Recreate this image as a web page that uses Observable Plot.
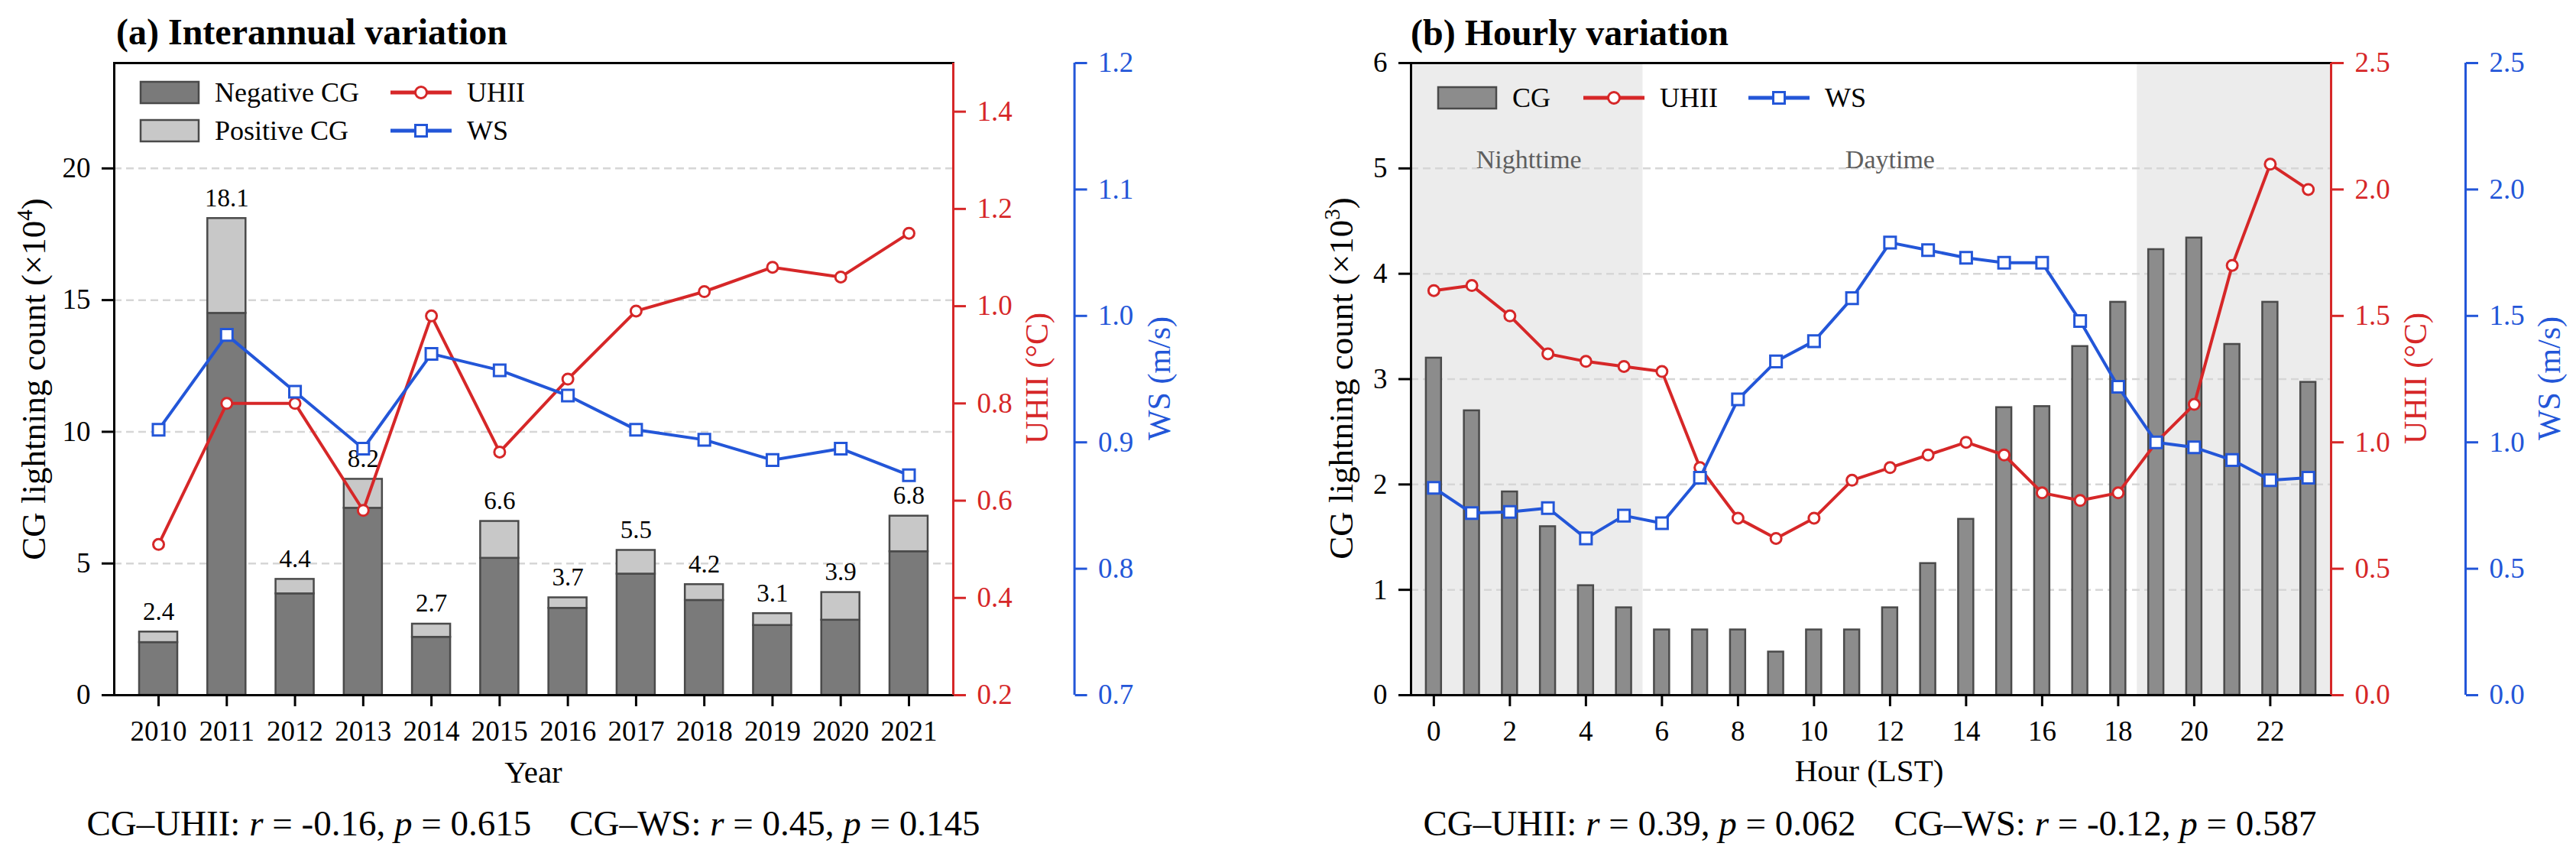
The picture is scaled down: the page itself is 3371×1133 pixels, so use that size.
<!DOCTYPE html>
<html><head><meta charset="utf-8">
<script src="https://cdn.jsdelivr.net/npm/d3@7"></script>
<script src="https://cdn.jsdelivr.net/npm/@observablehq/plot@0.6"></script>
<style>
html,body{margin:0;padding:0;background:#fff;}
#page{position:relative;width:3371px;height:1133px;overflow:hidden;background:#fff;}
</style></head><body><div id="page"></div>
<script>
// ---------------- DATA ----------------
const years = [2010, 2011, 2012, 2013, 2014, 2015, 2016, 2017, 2018, 2019, 2020, 2021];
const cgTotal = [2.4, 18.1, 4.4, 8.2, 2.7, 6.6, 3.7, 5.5, 4.2, 3.1, 3.9, 6.8];
const cgNegative = [2.0, 14.5, 3.85, 7.1, 2.2, 5.2, 3.3, 4.6, 3.6, 2.65, 2.85, 5.45];
const uhiiYear = [0.51, 0.80, 0.80, 0.58, 0.98, 0.70, 0.85, 0.99, 1.03, 1.08, 1.06, 1.15];
const wsYear = [0.91, 0.985, 0.94, 0.895, 0.97, 0.957, 0.937, 0.91, 0.902, 0.886, 0.895, 0.874];

const hours = [0, 1, 2, 3, 4, 5, 6, 7, 8, 9, 10, 11, 12, 13, 14, 15, 16, 17, 18, 19, 20, 21, 22, 23];
const cgHour = [3.2, 2.7, 1.93, 1.6, 1.04, 0.83, 0.62, 0.62, 0.62, 0.41, 0.62, 0.62, 0.83, 1.25, 1.67, 2.73, 2.74, 3.31, 3.73, 4.23, 4.34, 3.33, 3.73, 2.97];
const uhiiHour = [1.60, 1.62, 1.50, 1.35, 1.32, 1.30, 1.28, 0.90, 0.70, 0.62, 0.70, 0.85, 0.90, 0.95, 1.00, 0.95, 0.80, 0.77, 0.80, 1.00, 1.15, 1.70, 2.10, 2.00];
const wsHour = [0.82, 0.72, 0.725, 0.74, 0.62, 0.71, 0.68, 0.86, 1.17, 1.32, 1.40, 1.57, 1.79, 1.76, 1.73, 1.71, 1.71, 1.48, 1.22, 1.00, 0.98, 0.93, 0.85, 0.86];

const leftTicksA = [0, 5, 10, 15, 20];
const uhiiTicksA = [0.2, 0.4, 0.6, 0.8, 1.0, 1.2, 1.4];
const wsTicksA = [0.7, 0.8, 0.9, 1.0, 1.1, 1.2];
const hourTicks = [0, 2, 4, 6, 8, 10, 12, 14, 16, 18, 20, 22];
const leftTicksB = [0, 1, 2, 3, 4, 5, 6];
const rightTicksB = [0, 0.5, 1.0, 1.5, 2.0, 2.5];
const dayStart = 5.5, dayEnd = 18.5;
const periodLabels = [{label: "Nighttime", hour: 2.5}, {label: "Daytime", hour: 12}];

// ---------------- STYLE ----------------
const RED = "#d62728", BLUE = "#2356d8";
const FONT = "'Liberation Serif','Times New Roman',serif";
const H = 1133;
const page = document.getElementById("page");
function style(color) {
  return `background:transparent;overflow:visible;max-width:none;font-family:${FONT};font-size:37px;color:${color};`;
}
function place(svg, left) {
  svg.style.position = "absolute";
  svg.style.left = left + "px";
  svg.style.top = "0px";
  page.appendChild(svg);
}

// ---------------- PANEL A ----------------
const rowsA = years.map((year, i) => ({year, total: cgTotal[i], neg: cgNegative[i], uhii: uhiiYear[i], ws: wsYear[i]}));
const A = {left: 0, width: 1700, ml: 149, mr: 453, mt: 82, mb: 224, wsMr: 294.4};
const xDomA = [2009.35, 2021.65];
const halfA = 0.28;

place(Plot.plot({
  width: A.width, height: H, marginLeft: A.ml, marginRight: A.mr, marginTop: A.mt, marginBottom: A.mb,
  x: {domain: xDomA}, y: {domain: [0, 24]}, style: style("#000"),
  marks: [
    Plot.ruleY(leftTicksA.filter(v => v > 0), {stroke: "#d6d6d6", strokeWidth: 2.5, strokeDasharray: "10,6"}),
    Plot.rect(rowsA, {x1: d => d.year - halfA, x2: d => d.year + halfA, y1: () => 0, y2: "neg", fill: "#7a7a7a", stroke: "#4a4a4a", strokeWidth: 2.5}),
    Plot.rect(rowsA, {x1: d => d.year - halfA, x2: d => d.year + halfA, y1: "neg", y2: "total", fill: "#c8c8c8", stroke: "#4a4a4a", strokeWidth: 2.5}),
    Plot.text(rowsA, {x: "year", y: "total", text: d => d.total.toFixed(1), lineAnchor: "bottom", dy: -16, fontSize: 33, fill: "#000"}),
    Plot.axisY(leftTicksA, {tickSize: 16, tickPadding: 15, strokeWidth: 3, tickFormat: "d", label: null}),
    Plot.axisX(years, {tickSize: 15, tickPadding: 18, strokeWidth: 3, tickFormat: d => String(d), label: null}),
    Plot.frame({stroke: "#000", strokeWidth: 3})
  ]
}), A.left);

place(Plot.plot({
  width: A.width, height: H, marginLeft: A.ml, marginRight: A.mr, marginTop: A.mt, marginBottom: A.mb,
  x: {domain: xDomA, axis: null}, y: {domain: [0.2, 1.5]}, style: style(RED),
  marks: [
    Plot.ruleX([xDomA[1]], {stroke: RED, strokeWidth: 3}),
    Plot.axisY(uhiiTicksA, {anchor: "right", tickSize: 16, tickPadding: 15, strokeWidth: 3, tickFormat: ".1f", label: null}),
    Plot.line(rowsA, {x: "year", y: "uhii", stroke: RED, strokeWidth: 4}),
    Plot.dot(rowsA, {x: "year", y: "uhii", r: 7, fill: "white", stroke: RED, strokeWidth: 3})
  ]
}), A.left);

place(Plot.plot({
  width: A.width, height: H, marginLeft: A.ml, marginRight: A.mr, marginTop: A.mt, marginBottom: A.mb,
  x: {domain: xDomA, axis: null}, y: {domain: [0.7, 1.2], axis: null}, style: style(BLUE),
  marks: [
    Plot.line(rowsA, {x: "year", y: "ws", stroke: BLUE, strokeWidth: 4}),
    Plot.dot(rowsA, {x: "year", y: "ws", r: 8.5, symbol: "square", fill: "white", stroke: BLUE, strokeWidth: 3})
  ]
}), A.left);

place(Plot.plot({
  width: A.width, height: H, marginLeft: A.ml, marginRight: A.wsMr, marginTop: A.mt, marginBottom: A.mb,
  x: {domain: [0, 1], axis: null}, y: {domain: [0.7, 1.2]}, style: style(BLUE),
  marks: [
    Plot.ruleX([1], {stroke: BLUE, strokeWidth: 3}),
    Plot.axisY(wsTicksA, {anchor: "right", tickSize: 16, tickPadding: 15, strokeWidth: 3, tickFormat: ".1f", label: null})
  ]
}), A.left);

// ---------------- PANEL B ----------------
const rowsB = hours.map((hour, i) => ({hour, cg: cgHour[i], uhii: uhiiHour[i], ws: wsHour[i]}));
const B = {left: 1700, width: 1671, ml: 146, mr: 321, mt: 82, mb: 224, wsMr: 145};
const xDomB = [-0.6, 23.6];
const halfB = 0.2;
const nightRects = [{start: xDomB[0], end: dayStart}, {start: dayEnd, end: xDomB[1]}];

place(Plot.plot({
  width: B.width, height: H, marginLeft: B.ml, marginRight: B.mr, marginTop: B.mt, marginBottom: B.mb,
  x: {domain: xDomB}, y: {domain: [0, 6]}, style: style("#000"),
  marks: [
    Plot.rect(nightRects, {x1: "start", x2: "end", fill: "#ececec"}),
    Plot.ruleY(leftTicksB.filter(v => v > 0 && v < 6), {stroke: "#d6d6d6", strokeWidth: 2.5, strokeDasharray: "10,6"}),
    Plot.rect(rowsB, {x1: d => d.hour - halfB, x2: d => d.hour + halfB, y1: () => 0, y2: "cg", fill: "#8c8c8c", stroke: "#4a4a4a", strokeWidth: 2.5}),
    Plot.text(periodLabels, {x: "hour", y: () => 5, text: "label", lineAnchor: "bottom", fontSize: 34, fill: "#5e5e5e"}),
    Plot.axisY(leftTicksB, {tickSize: 16, tickPadding: 15, strokeWidth: 3, tickFormat: "d", label: null}),
    Plot.axisX(hourTicks, {tickSize: 15, tickPadding: 18, strokeWidth: 3, tickFormat: "d", label: null}),
    Plot.frame({stroke: "#000", strokeWidth: 3})
  ]
}), B.left);

place(Plot.plot({
  width: B.width, height: H, marginLeft: B.ml, marginRight: B.mr, marginTop: B.mt, marginBottom: B.mb,
  x: {domain: xDomB, axis: null}, y: {domain: [0, 2.5]}, style: style(RED),
  marks: [
    Plot.ruleX([xDomB[1]], {stroke: RED, strokeWidth: 3}),
    Plot.axisY(rightTicksB, {anchor: "right", tickSize: 16, tickPadding: 15, strokeWidth: 3, tickFormat: ".1f", label: null}),
    Plot.line(rowsB, {x: "hour", y: "uhii", stroke: RED, strokeWidth: 4}),
    Plot.dot(rowsB, {x: "hour", y: "uhii", r: 7, fill: "white", stroke: RED, strokeWidth: 3})
  ]
}), B.left);

place(Plot.plot({
  width: B.width, height: H, marginLeft: B.ml, marginRight: B.mr, marginTop: B.mt, marginBottom: B.mb,
  x: {domain: xDomB, axis: null}, y: {domain: [0, 2.5], axis: null}, style: style(BLUE),
  marks: [
    Plot.line(rowsB, {x: "hour", y: "ws", stroke: BLUE, strokeWidth: 4}),
    Plot.dot(rowsB, {x: "hour", y: "ws", r: 8.5, symbol: "square", fill: "white", stroke: BLUE, strokeWidth: 3})
  ]
}), B.left);

place(Plot.plot({
  width: B.width, height: H, marginLeft: B.ml, marginRight: B.wsMr, marginTop: B.mt, marginBottom: B.mb,
  x: {domain: [0, 1], axis: null}, y: {domain: [0, 2.5]}, style: style(BLUE),
  marks: [
    Plot.ruleX([1], {stroke: BLUE, strokeWidth: 3}),
    Plot.axisY(rightTicksB, {anchor: "right", tickSize: 16, tickPadding: 15, strokeWidth: 3, tickFormat: ".1f", label: null})
  ]
}), B.left);

// ---------------- TITLES, AXIS TITLES, LEGENDS, STATS ----------------
const ns = "http://www.w3.org/2000/svg";
const ov = document.createElementNS(ns, "svg");
ov.setAttribute("width", 3371); ov.setAttribute("height", H);
ov.style.cssText = `position:absolute;left:0;top:0;overflow:visible;font-family:${FONT};`;
page.appendChild(ov);
function el(tag, attrs, parent = ov) {
  const e = document.createElementNS(ns, tag);
  for (const k in attrs) e.setAttribute(k, attrs[k]);
  parent.appendChild(e);
  return e;
}
function text(str, x, y, size, opt = {}) {
  const t = el("text", {x, y: y + 0.33 * size, "font-size": size, fill: opt.fill || "#000",
    "text-anchor": opt.anchor || "start", "font-weight": opt.weight || "normal"});
  t.innerHTML = str;
  return t;
}
function rotText(str, cx, cy, size, fill) {
  const g = el("g", {transform: `translate(${cx},${cy}) rotate(-90)`});
  const t = el("text", {x: 0, y: 0.33 * size, "font-size": size, fill, "text-anchor": "middle"}, g);
  t.innerHTML = str;
}

text("(a) Interannual variation", 152, 42, 48, {weight: "bold"});
text("(b) Hourly variation", 1846, 43, 48, {weight: "bold"});

rotText('CG lightning count (×10<tspan font-size="29" dy="-17">4</tspan><tspan dy="17">)</tspan>', 44, 496, 45, "#000");
rotText('CG lightning count (×10<tspan font-size="29" dy="-17">3</tspan><tspan dy="17">)</tspan>', 1755, 495, 45, "#000");
rotText("UHII (°C)", 1357, 495, 42, RED);
rotText("WS (m/s)", 1517, 495, 42, BLUE);
rotText("UHII (°C)", 3161, 495, 42, RED);
rotText("WS (m/s)", 3336, 495, 42, BLUE);

text("Year", 698, 1010, 41, {anchor: "middle"});
text("Hour (LST)", 2446, 1008, 41, {anchor: "middle"});

text('CG–UHII: <tspan font-style="italic">r</tspan> = -0.16, <tspan font-style="italic">p</tspan> = 0.615<tspan dx="50">CG–WS: </tspan><tspan font-style="italic">r</tspan> = 0.45, <tspan font-style="italic">p</tspan> = 0.145', 698, 1077, 47, {anchor: "middle"});
text('CG–UHII: <tspan font-style="italic">r</tspan> = 0.39, <tspan font-style="italic">p</tspan> = 0.062<tspan dx="50">CG–WS: </tspan><tspan font-style="italic">r</tspan> = -0.12, <tspan font-style="italic">p</tspan> = 0.587', 2447, 1077, 47, {anchor: "middle"});

// legends
const legendPatches = [
  {x: 184, y: 121, fill: "#7a7a7a", label: "Negative CG"},
  {x: 184, y: 171, fill: "#c8c8c8", label: "Positive CG"},
  {x: 1882, y: 128, fill: "#8c8c8c", label: "CG"}
];
const legendLines = [
  {x: 511, y: 121, color: RED, sym: "circle", label: "UHII"},
  {x: 511, y: 171, color: BLUE, sym: "square", label: "WS"},
  {x: 2072, y: 128, color: RED, sym: "circle", label: "UHII"},
  {x: 2288, y: 128, color: BLUE, sym: "square", label: "WS"}
];
for (const p of legendPatches) {
  el("rect", {x: p.x, y: p.y - 14, width: 76, height: 28, fill: p.fill, stroke: "#4a4a4a", "stroke-width": 2.5});
  text(p.label, p.x + 97, p.y, 36);
}
for (const l of legendLines) {
  el("line", {x1: l.x, x2: l.x + 80, y1: l.y, y2: l.y, stroke: l.color, "stroke-width": 5});
  if (l.sym === "circle") el("circle", {cx: l.x + 40, cy: l.y, r: 7.5, fill: "white", stroke: l.color, "stroke-width": 3});
  else el("rect", {x: l.x + 32.5, y: l.y - 7.5, width: 15, height: 15, fill: "white", stroke: l.color, "stroke-width": 3});
  text(l.label, l.x + 100, l.y, 36);
}
</script></body></html>
